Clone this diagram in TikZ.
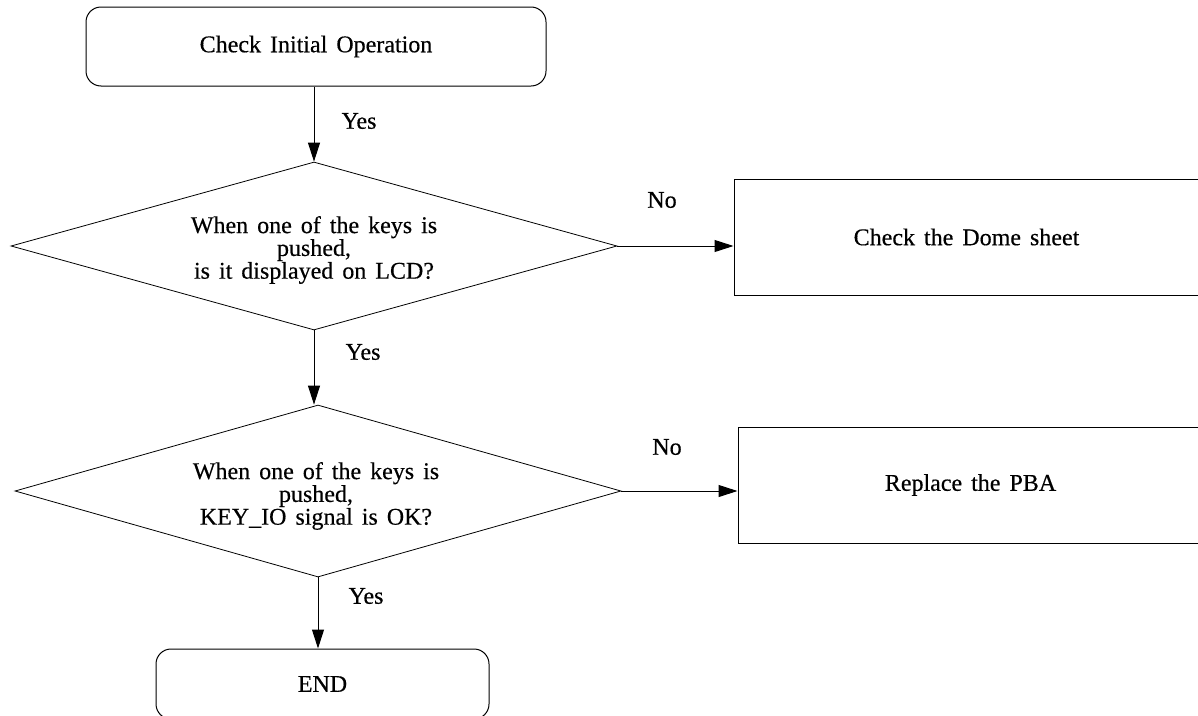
\documentclass[tikz,border=0pt]{standalone}
\usepackage{fontspec}
\setmainfont{Liberation Serif}[WordSpace=1.5,FakeBold=0.4]
\usetikzlibrary{shapes.geometric,arrows.meta}
\tikzset{
  base/.style={draw=black, line width=1pt, inner sep=0pt, font=\fontsize{24}{20}\selectfont, align=center},
  term/.style={base, rounded corners=15pt},
  proc/.style={base, rectangle},
  decision/.style={base, diamond, aspect=3.6, line width=0.8pt},
  txt/.style={inner sep=0pt, font=\fontsize{24}{21}\selectfont, align=center},
  arr/.style={line width=1pt, -{Triangle[length=19pt,width=12pt]}},
  lbl/.style={font=\fontsize{24}{20}\selectfont, inner sep=0pt}
}
\begin{document}
\begin{tikzpicture}[x=1pt,y=-1pt]
\useasboundingbox (0,0) rectangle (1198,715);
\node[term, minimum width=460pt, minimum height=79pt] (start) at (316,46.5) {Check Initial Operation};
\node[decision, minimum width=606pt, minimum height=168pt] (d1) at (314,246) {};
\node[txt] (t1) at (314,250) {When one of the keys is\\pushed,\\is it displayed on LCD?};
\node[proc, minimum width=465pt, minimum height=116pt] (b1) at (966.5,237) {Check the Dome sheet};
\node[decision, minimum width=606pt, minimum height=172pt] (d2) at (318,491) {};
\node[txt] (t2) at (316,496) {When one of the keys is\\pushed,\\KEY\_IO signal is OK?};
\node[proc, minimum width=465pt, minimum height=116pt] (b2) at (970.5,485) {Replace the PBA};
\node[term, minimum width=333pt, minimum height=70pt] (end) at (322.5,684) {END};

\draw[arr] (start.south -| d1.north) -- (d1.north);
\draw[arr] (d1.south) -- (d1.south |- d2.north);
\draw[arr] (d2.south) -- (d2.south |- end.north);
\draw[arr] (d1.east) -- (d1.east -| b1.west);
\draw[arr] (d2.east) -- (d2.east -| b2.west);

\node[lbl] (y1) at (359,121) {Yes};
\node[lbl] (y2) at (363,352) {Yes};
\node[lbl] (y3) at (366,596) {Yes};
\node[lbl] (n1) at (662,200) {No};
\node[lbl] (n2) at (667,447) {No};
\end{tikzpicture}
\end{document}
